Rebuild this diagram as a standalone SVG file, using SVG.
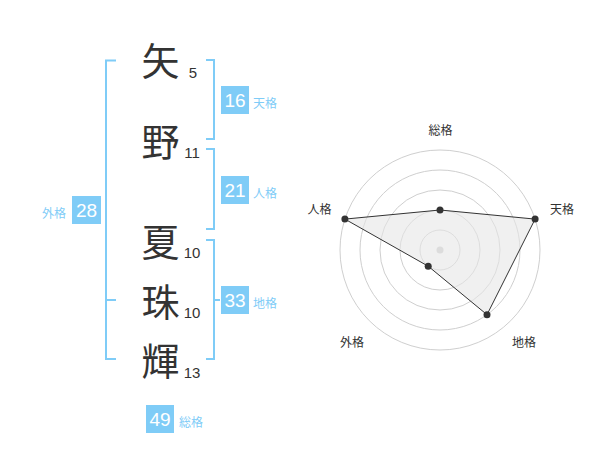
<svg xmlns="http://www.w3.org/2000/svg" width="600" height="470" viewBox="0 0 600 470">
<style>
.ch{font-family:"Noto Sans CJK JP","Noto Sans CJK SC",sans-serif;font-size:38px;fill:#333;text-anchor:middle}
.num{font-family:"Liberation Sans",Arial,sans-serif;font-size:15px;fill:#333;text-anchor:middle}
.box{fill:#7fccf7}
.bn{font-family:"Liberation Sans",Arial,sans-serif;font-size:19px;fill:#fff;text-anchor:middle}
.lb{font-family:"Noto Sans CJK JP","Noto Sans CJK SC",sans-serif;font-size:12px;fill:#7fccf7}
.br{fill:none;stroke:#7fccf7;stroke-width:2}
.ring{fill:none;stroke:#cfcfcf;stroke-width:1}
.rl{font-family:"Noto Sans CJK JP","Noto Sans CJK SC",sans-serif;font-size:12px;fill:#333;text-anchor:middle}
.dot{fill:#333}
</style>
<rect width="600" height="470" fill="#fff"/>
<g id="connectors">
<path class="br" d="M116,60.5 H106 V359 H116 M106,300 H116"/>
<path class="br" d="M206,60 H214 V139 H206"/>
<path class="br" d="M206,149 H214 V229 H206"/>
<path class="br" d="M206,240 H214 V359 H206 M214,300 H220"/>
</g>
<g id="char-ya"><text class="ch" x="160.5" y="75">矢</text><text class="num" x="193" y="78">5</text></g>
<g id="char-no"><text class="ch" x="160.5" y="155.5">野</text><text class="num" x="192" y="158">11</text></g>
<g id="char-natsu"><text class="ch" x="160.5" y="256">夏</text><text class="num" x="192" y="258">10</text></g>
<g id="char-shu"><text class="ch" x="160.5" y="315.5">珠</text><text class="num" x="192" y="318">10</text></g>
<g id="char-ki"><text class="ch" x="160.5" y="374.5">輝</text><text class="num" x="192" y="378">13</text></g>
<g id="tenkaku"><rect class="box" x="221" y="86" width="28" height="28"/><text class="bn" x="235" y="107">16</text><text class="lb" x="253" y="108">天格</text></g>
<g id="jinkaku"><rect class="box" x="221" y="176" width="28" height="28"/><text class="bn" x="235" y="197">21</text><text class="lb" x="253" y="198">人格</text></g>
<g id="chikaku"><rect class="box" x="221" y="286" width="28" height="28"/><text class="bn" x="235" y="307">33</text><text class="lb" x="253" y="308">地格</text></g>
<g id="gaikaku"><rect class="box" x="72" y="196" width="29" height="28"/><text class="bn" x="86.5" y="217">28</text><text class="lb" x="66" y="218" text-anchor="end">外格</text></g>
<g id="soukaku"><rect class="box" x="146" y="405" width="28" height="28"/><text class="bn" x="160" y="426">49</text><text class="lb" x="179" y="427">総格</text></g>
<g id="radar">
<circle class="ring" cx="440" cy="250" r="20"/>
<circle class="ring" cx="440" cy="250" r="40"/>
<circle class="ring" cx="440" cy="250" r="60"/>
<circle class="ring" cx="440" cy="250" r="80"/>
<circle class="ring" cx="440" cy="250" r="100"/>
<circle cx="440" cy="250" r="3.5" fill="#ccc"/>
<polygon points="440,210 535.1,219.1 487,314.7 428.2,266.2 344.9,219.1" fill="#e6e6e6" fill-opacity="0.6" stroke="#333" stroke-width="1"/>
<circle class="dot" cx="440" cy="210" r="3.5"/>
<circle class="dot" cx="535.1" cy="219.1" r="3.5"/>
<circle class="dot" cx="487" cy="314.7" r="3.5"/>
<circle class="dot" cx="428.2" cy="266.2" r="3.5"/>
<circle class="dot" cx="344.9" cy="219.1" r="3.5"/>
<text class="rl" x="440.5" y="135">総格</text>
<text class="rl" x="562" y="213.5">天格</text>
<text class="rl" x="319.5" y="213.5">人格</text>
<text class="rl" x="524" y="346.5">地格</text>
<text class="rl" x="352" y="346.5">外格</text>
</g>
</svg>
